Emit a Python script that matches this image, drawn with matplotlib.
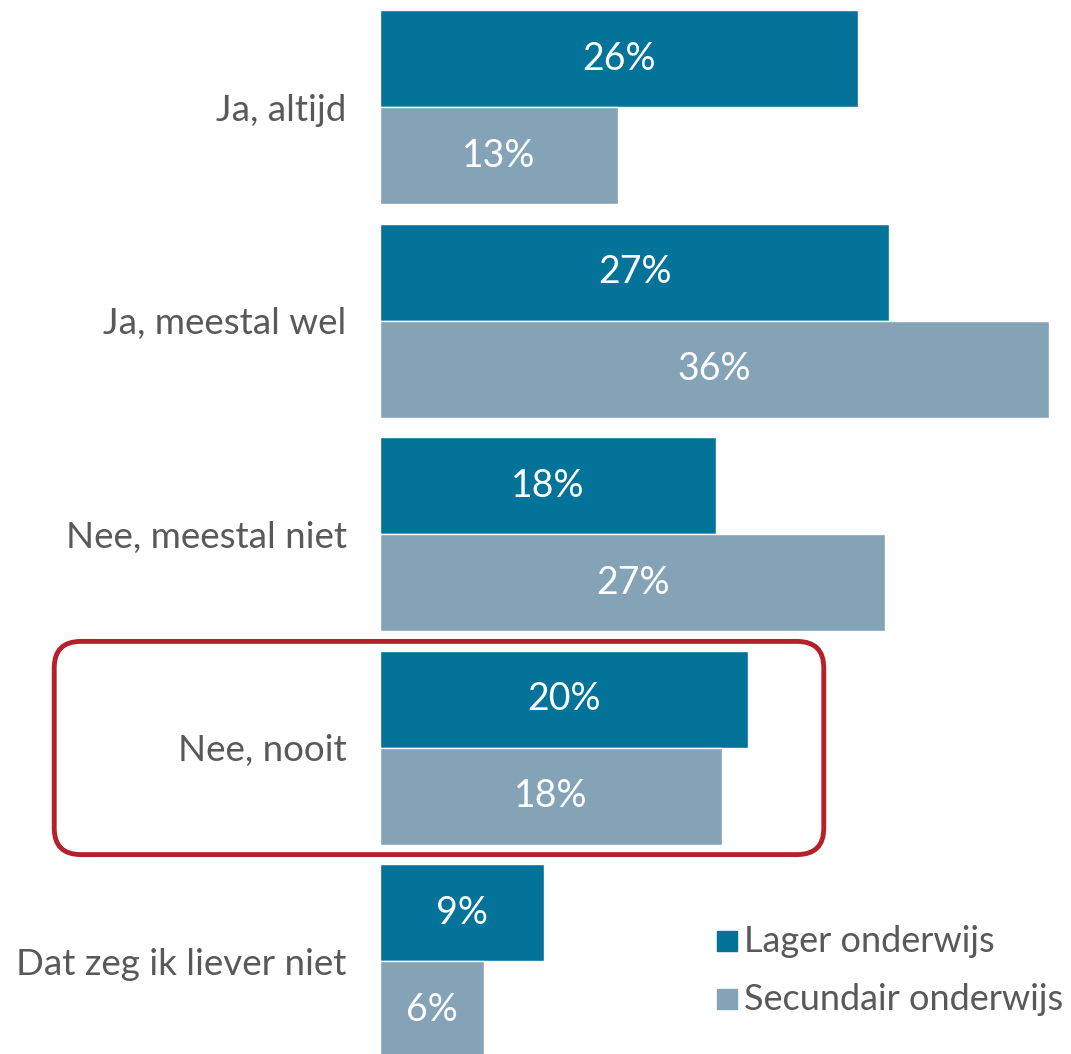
import numpy as np
import matplotlib.pyplot as plt
from matplotlib.patches import FancyBboxPatch, Rectangle

categories = ["Ja, altijd", "Ja, meestal wel", "Nee, meestal niet",
              "Nee, nooit", "Dat zeg ik liever niet"]
lager = [25.7, 27.4, 18.1, 19.8, 8.8]
secundair = [12.8, 36.0, 27.2, 18.4, 5.6]
series_names = ["Lager onderwijs", "Secundair onderwijs"]

c_lager = "#04739a"
c_sec = "#84a3b7"
c_text = "#595959"
c_red = "#b5212b"

plt.rcParams['font.family'] = ['Lato', 'DejaVu Sans']

W, H = 1071, 1054
fig = plt.figure(figsize=(W / 100, H / 100), dpi=100)

# axes placed in pixel terms: bars start at x=380, 36% ends at x=1049
pitch = 213.5
bh = 97.0 / pitch
top_px = 10
bot_px = top_px + (len(categories) - 1) * pitch + 2 * 97.0
ax = fig.add_axes([380 / W, 1 - bot_px / H, (1049 - 380) / W, (bot_px - top_px) / H])

y = np.arange(len(categories))

b1 = ax.barh(y - bh / 2, lager, height=bh, color=c_lager, edgecolor="white", linewidth=1)
b2 = ax.barh(y + bh / 2, secundair, height=bh, color=c_sec, edgecolor="white", linewidth=1)

for bars, vals in ((b1, lager), (b2, secundair)):
    for rect, v in zip(bars, vals):
        ax.text(rect.get_x() + rect.get_width() / 2, rect.get_y() + rect.get_height() / 2,
                "%d%%" % round(v), ha="center", va="center", color="white", fontsize=27)

ax.set_xlim(0, 36.0)
ax.set_ylim(len(categories) - 1 + bh, -bh)
ax.set_yticks(y)
ax.set_yticklabels(categories, fontsize=26.5, color=c_text)
ax.tick_params(axis="y", length=0, pad=24)
ax.set_xticks([])
for s in ax.spines.values():
    s.set_visible(False)

# highlight box around "Nee, nooit"
box = FancyBboxPatch((66 / W, 1 - 843 / H), (812 - 66) / W, (843 - 653) / H,
                     boxstyle="round,pad=0.011,rounding_size=0.025",
                     transform=fig.transFigure, fill=False, edgecolor=c_red,
                     linewidth=3.5, clip_on=False)
fig.patches.append(box)

# legend
for i, (name, col) in enumerate(zip(series_names, [c_lager, c_sec])):
    yc = 1 - (941 + 58 * i) / H
    fig.patches.append(Rectangle((717 / W, yc - 10 / H), 20 / W, 20 / H,
                                 transform=fig.transFigure, color=col))
    fig.text(744 / W, yc, name, fontsize=26, color=c_text, va="center", ha="left")

fig.savefig("out.png", dpi=100)
